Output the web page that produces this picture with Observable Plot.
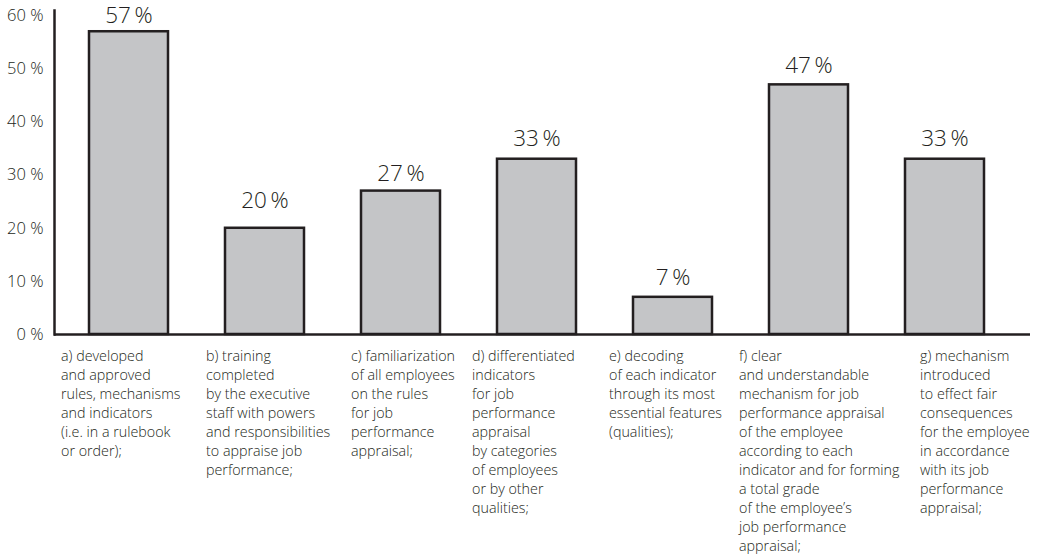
<!DOCTYPE html>
<html><head><meta charset="utf-8">
<script src="https://cdn.jsdelivr.net/npm/d3@7"></script>
<script src="https://cdn.jsdelivr.net/npm/@observablehq/plot@0.6"></script>
<style>html,body{margin:0;padding:0;background:#fff;overflow:hidden}</style>
</head><body><div id="chart"></div>
<script>
const categories = ["a", "b", "c", "d", "e", "f", "g"];
const values = [57, 20, 27, 33, 7, 47, 33];
const categoryLabels = [
  "a) developed\nand approved\nrules, mechanisms\nand indicators\n(i.e. in a rulebook\nor order);",
  "b) training\ncompleted\nby the executive\nstaff with powers\nand responsibilities\nto appraise job\nperformance;",
  "c) familiarization\nof all employees\non the rules\nfor job\nperformance\nappraisal;",
  "d) differentiated\nindicators\nfor job\nperformance\nappraisal\nby categories\nof employees\nor by other\nqualities;",
  "e) decoding\nof each indicator\nthrough its most\nessential features\n(qualities);",
  "f) clear\nand understandable\nmechanism for job\nperformance appraisal\nof the employee\naccording to each\nindicator and for forming\na total grade\nof the employee\u2019s\njob performance\nappraisal;",
  "g) mechanism\nintroduced\nto effect fair\nconsequences\nfor the employee\nin accordance\nwith its job\nperformance\nappraisal;"
];
const yTicks = [0, 10, 20, 30, 40, 50, 60];

// layout tweaks: label offsets relative to each bar (as placed in the original figure)
const labelShift = [-68, -59, -50, -65, -64, -70, -25];
const valueLift = [-9, -20, -10, -13, -12, -12, -13];

const data = categories.map((c, i) => ({category: c, value: values[i], label: categoryLabels[i]}));
const ink = "#231f20";

const plot = Plot.plot({
  width: 1043,
  height: 554,
  marginLeft: 54,
  marginRight: 13,
  marginTop: 10,
  marginBottom: 220,
  style: {fontFamily: "'Open Sans', sans-serif", fontWeight: 350, color: ink, background: "#fff"},
  x: {domain: categories, range: [86, 988], paddingInner: 0.416, paddingOuter: 0, axis: null},
  y: {domain: [0, 61], axis: null},
  marks: [
    Plot.barY(data, {x: "category", y: "value", fill: "#c4c5c7", stroke: ink, strokeWidth: 2.5}),
    Plot.frame({anchor: "left", stroke: ink, strokeWidth: 2.5}),
    Plot.ruleY([0], {stroke: ink, strokeWidth: 2.5}),
    Plot.axisY({ticks: yTicks, tickSize: 0, tickPadding: 11, tickFormat: d => `${d} %`, fontSize: 16.5, fontWeight: 350, label: null, fill: ink}),
    ...data.map((d, i) => Plot.text([d], {
      x: "category", y: "value", text: d => `${d.value}\u2009%`,
      lineAnchor: "bottom", dy: valueLift[i], fontSize: 22.5, fontWeight: 350, fill: ink
    })),
    ...data.map((d, i) => Plot.text([d], {
      x: "category", y: () => 0, text: "label",
      textAnchor: "start", lineAnchor: "top", dx: labelShift[i], dy: 13,
      lineHeight: 1.33, fontSize: 14.3, fontWeight: 350, fill: ink
    }))
  ]
});
document.getElementById("chart").appendChild(plot);
</script>
</body></html>
